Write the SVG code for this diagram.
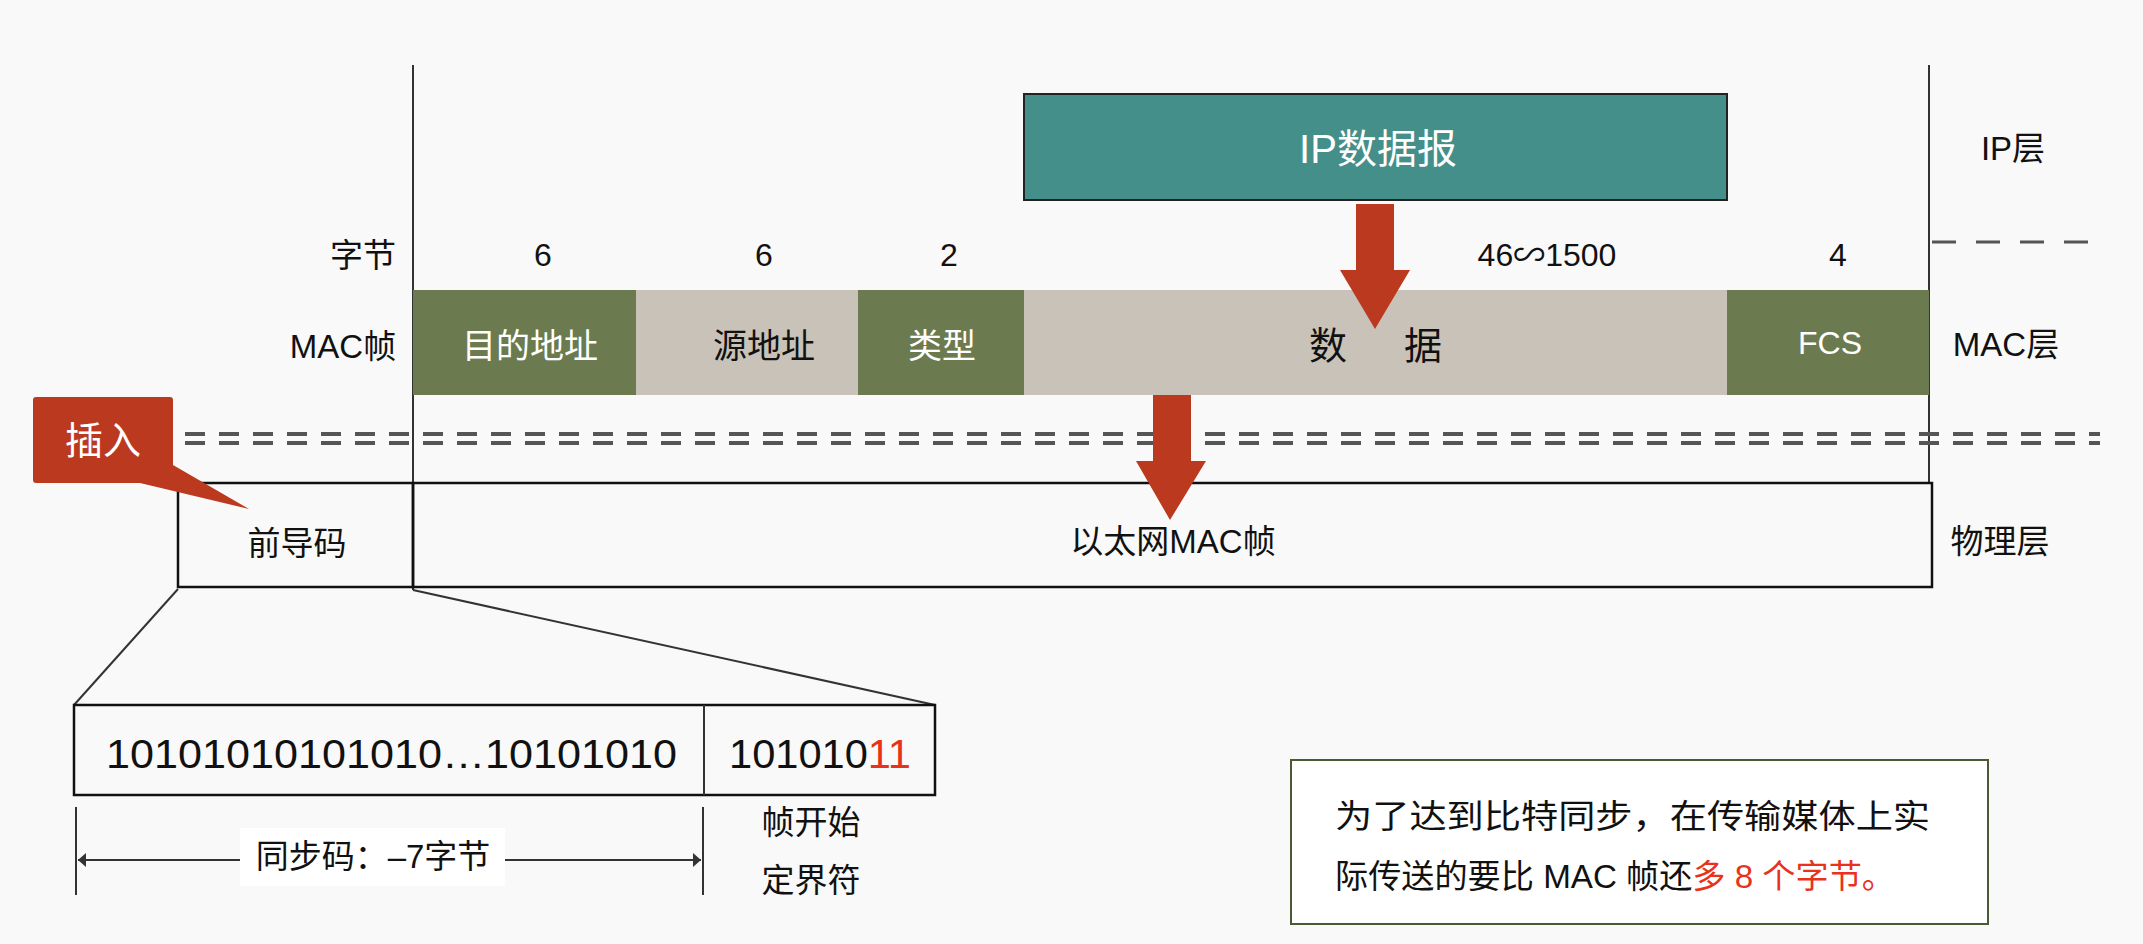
<svg xmlns="http://www.w3.org/2000/svg" width="2143" height="944" viewBox="0 0 2143 944">
<style>
text{font-family:"Liberation Sans","Noto Sans CJK SC",sans-serif;fill:#111}
.c{text-anchor:middle;dominant-baseline:central}
.w{fill:#fff}
.l{stroke:#333;stroke-width:2;fill:none}
.dd{stroke:#555;stroke-width:4;stroke-dasharray:20 14}
</style>
<rect width="2143" height="944" fill="#f9f9f9"/>
<g id="frame">
<line class="l" x1="413" y1="65" x2="413" y2="590"/>
<line class="l" x1="1929" y1="65" x2="1929" y2="483"/>
<line x1="1932" y1="242" x2="2090" y2="242" stroke="#555" stroke-width="3" stroke-dasharray="24 20"/>
<line class="dd" x1="185" y1="434" x2="2100" y2="434"/>
<line class="dd" x1="185" y1="443" x2="2100" y2="443"/>
</g>
<g id="labels">
<text class="c" x="363" y="255" font-size="33">字节</text>
<text class="c" x="343" y="346" font-size="33">MAC帧</text>
<text class="c" x="543" y="255" font-size="32">6</text>
<text class="c" x="764" y="255" font-size="32">6</text>
<text class="c" x="949" y="255" font-size="32">2</text>
<text class="c" x="1547" y="255" font-size="32">46∽1500</text>
<text class="c" x="1838" y="255" font-size="32">4</text>
<text class="c" x="2013" y="148" font-size="33">IP层</text>
<text class="c" x="2006" y="344" font-size="33">MAC层</text>
<text class="c" x="2000" y="541" font-size="33">物理层</text>
</g>
<g id="ip">
<rect x="1024" y="94" width="703" height="106" fill="#458f8a" stroke="#222" stroke-width="2"/>
<text class="c w" x="1378" y="149" font-size="40">IP数据报</text>
</g>
<g id="mac">
<rect x="413" y="290" width="223" height="105" fill="#6b7b4f"/>
<text class="c w" x="530" y="346" font-size="34">目的地址</text>
<rect x="636" y="290" width="222" height="105" fill="#c9c2b8"/>
<text class="c" x="764" y="346" font-size="34">源地址</text>
<rect x="858" y="290" width="166" height="105" fill="#6b7b4f"/>
<text class="c w" x="942" y="346" font-size="34">类型</text>
<rect x="1024" y="290" width="703" height="105" fill="#c9c2b8"/>
<text class="c" x="1328" y="346" font-size="38">数</text>
<text class="c" x="1423" y="346" font-size="38">据</text>
<rect x="1727" y="290" width="202" height="105" fill="#6b7b4f"/>
<text class="c w" x="1830" y="343" font-size="32">FCS</text>
</g>
<g id="phys">
<rect x="178" y="483" width="235" height="104" fill="none" stroke="#111" stroke-width="2.5"/>
<text class="c" x="297" y="543" font-size="33">前导码</text>
<rect x="413" y="483" width="1519" height="104" fill="none" stroke="#111" stroke-width="2.5"/>
<text class="c" x="1173" y="541" font-size="33">以太网MAC帧</text>
</g>
<g id="connectors">
<polygon points="1356,204 1394,204 1394,270 1410,270 1375,329 1340,270 1356,270" fill="#bb3a1f"/>
<polygon points="1153,395 1191,395 1191,461 1206,461 1170,520 1136,461 1153,461" fill="#bb3a1f"/>
<line class="l" x1="178" y1="589" x2="74" y2="705"/>
<line class="l" x1="413" y1="590" x2="935" y2="705"/>
</g>
<g id="insert">
<path d="M36,397 H170 Q173,397 173,400 V465 L249,509 L140,483 H36 Q33,483 33,480 V400 Q33,397 36,397 Z" fill="#bb3a1f"/>
<text class="c w" x="103" y="441" font-size="38">插入</text>
</g>
<g id="bits">
<rect x="74" y="705" width="861" height="90" fill="none" stroke="#111" stroke-width="2.5"/>
<line class="l" x1="704" y1="705" x2="704" y2="795"/>
<text x="106" y="768" font-size="41" textLength="571" lengthAdjust="spacingAndGlyphs">10101010101010…10101010</text>
<text x="729" y="768" font-size="41" textLength="182" lengthAdjust="spacingAndGlyphs">101010<tspan fill="#e8321c">11</tspan></text>
</g>
<g id="dim">
<line class="l" x1="76" y1="807" x2="76" y2="895" stroke-width="1.5"/>
<line class="l" x1="703" y1="807" x2="703" y2="895" stroke-width="1.5"/>
<line class="l" x1="78" y1="860" x2="701" y2="860" stroke-width="1.5"/>
<polygon points="78,860 86,853 86,867" fill="#333"/>
<polygon points="701,860 693,853 693,867" fill="#333"/>
<rect x="240" y="828" width="265" height="58" fill="#fff"/>
<text class="c" x="373" y="856" font-size="33">同步码：–7字节</text>
<text class="c" x="811" y="822" font-size="33">帧开始</text>
<text class="c" x="811" y="880" font-size="33">定界符</text>
</g>
<g id="note">
<rect x="1291" y="760" width="697" height="164" fill="#fff" stroke="#4c5a34" stroke-width="2"/>
<text x="1335" y="828" font-size="33" textLength="595" lengthAdjust="spacingAndGlyphs">为了达到比特同步，在传输媒体上实</text>
<text x="1335" y="888" font-size="33" textLength="560" lengthAdjust="spacingAndGlyphs">际传送的要比 MAC 帧还<tspan fill="#e8321c">多 8 个字节。</tspan></text>
</g>
</svg>
